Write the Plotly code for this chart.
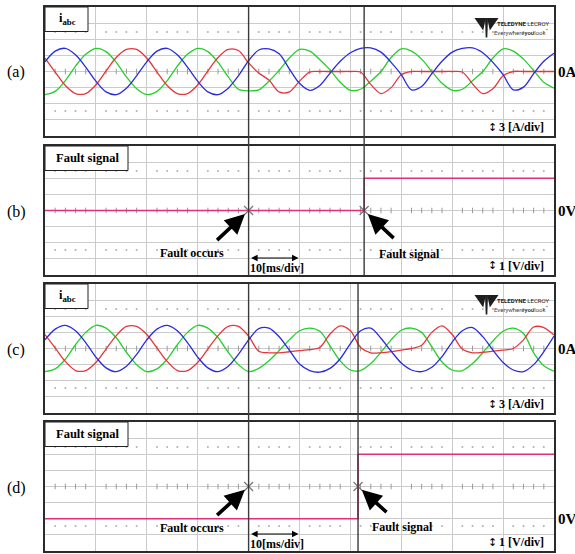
import plotly.graph_objects as go

# ---------------------------------------------------------------- data
# sample instants (ms) of the captured traces, 10 ms/div over 10 divisions
T_MS = list(range(0, 101, 2))

# (a) phase currents [A] – red = ia, blue = ib, green = ic
ia_a = [2.5, -0.1, -2.6, -4.1, -4.1, -2.5, 0.1, 2.6, 4.1, 4.1,
        2.5, -0.1, -2.6, -4.1, -4.1, -2.5, 0.1, 2.6, 4.1, 3.9,
        1.6, -0.3, -1.6, -3.8, -3.8, -1.8, -0.1, 0.0, 0.0, 0.0,
        0.0, -0.1, -2.4, -4.1, -3.0, -0.6, 0.0, 0.0, 0.0, 0.0,
        0.0, -0.1, -2.3, -4.1, -3.2, -0.8, 0.0, 0.0, 0.0, 0.0, 0.0]
ib_a = [1.8, 3.8, 4.3, 3.1, 0.8, -1.8, -3.8, -4.3, -3.1, -0.8,
        1.8, 3.8, 4.3, 3.1, 0.8, -1.8, -3.8, -4.3, -3.1, -0.8,
        2.0, 4.0, 4.2, 3.3, 0.5, -2.2, -3.5, -2.6, -0.3, 1.9,
        3.5, 4.3, 4.4, 3.6, 1.7, -0.6, -3.4, -2.8, -0.4, 1.9,
        3.6, 4.3, 4.4, 3.5, 1.7, -0.6, -3.4, -2.9, -0.4, 1.9, 3.4]
ic_a = [-4.3, -3.7, -1.7, 1.0, 3.2, 4.3, 3.7, 1.7, -1.0, -3.2,
        -4.3, -3.7, -1.7, 1.0, 3.2, 4.3, 3.7, 1.7, -1.0, -3.3,
        -3.6, -3.4, -1.8, 0.2, 2.5, 4.1, 3.8, 2.2, 0.3, -2.0,
        -3.5, -3.3, -1.8, 0.0, 2.6, 4.2, 3.8, 2.3, 0.0, -2.2,
        -3.5, -3.3, -1.7, 0.0, 2.5, 4.2, 3.8, 2.3, 0.2, -2.0, -3.1]

# (c) phase currents [A]
ia_c = [2.6, 0.1, -2.4, -4.1, -4.1, -2.6, -0.1, 2.4, 4.1, 4.1,
        2.6, 0.1, -2.4, -4.1, -4.1, -2.6, -0.1, 2.4, 4.1, 4.1,
        2.3, -0.5, -0.8, -0.8, -0.6, -0.4, -0.2, 0.2, 2.7, 4.2,
        3.3, 0.2, -0.8, -0.8, -0.6, -0.3, 0.0, 0.6, 3.0, 4.2,
        2.6, -0.1, -0.8, -0.7, -0.5, -0.3, 0.0, 1.6, 4.0, 3.9, 2.5]
ib_c = [1.6, 3.6, 4.3, 3.3, 1.1, -1.6, -3.6, -4.3, -3.3, -1.1,
        1.6, 3.6, 4.3, 3.3, 1.1, -1.6, -3.6, -4.3, -3.3, -1.1,
        1.6, 3.7, 3.8, 2.2, -0.3, -2.9, -4.1, -4.4, -3.7, -1.9,
        0.9, 3.3, 3.8, 1.9, -0.5, -2.7, -4.0, -4.3, -3.5, -1.5,
        1.2, 3.3, 3.9, 2.2, -0.3, -2.6, -4.0, -4.3, -3.0, -0.6, 2.3]
ic_c = [-4.3, -3.8, -2.0, 0.7, 3.0, 4.3, 3.8, 2.0, -0.7, -3.0,
        -4.3, -3.8, -2.0, 0.7, 3.0, 4.3, 3.8, 2.0, -0.7, -3.0,
        -4.3, -3.7, -2.3, -0.4, 1.6, 3.3, 3.8, 3.2, 0.5, -2.3,
        -4.0, -4.1, -2.8, -0.7, 1.6, 3.4, 3.8, 3.0, 0.3, -2.5,
        -4.0, -4.1, -2.8, -0.8, 1.4, 3.2, 3.8, 2.8, -0.8, -3.2, -4.2]

# fault signal traces [V]: level before / after the detection instant
FAULT_MS = 40.0
SIGNAL_MS_B = 62.7
SIGNAL_MS_D = 61.5
sig_t_b = [0.0, SIGNAL_MS_B, 100.0]
sig_v_b = [0.0, 2.0, 2.0]
sig_t_d = [0.0, SIGNAL_MS_D, 100.0]
sig_v_d = [0.0, 4.0, 4.0]

# ---------------------------------------------------------------- style
W, H = 575, 554
X_LEFT, X_RIGHT = 45, 554
PANEL_ROWS = [(7, 136), (146, 275), (284, 413), (422, 551)]
Y_RANGES = [(-12, 12, 3), (-4, 4, 1), (-12, 12, 3), (-2, 6, 1)]
CENTERS = [0, 0, 0, 2]

RED, GREEN, BLUE = "#e5363b", "#25cf2a", "#2a2ae0"
PINK = "#de2f7d"
GRID = "#cbcbcb"
FRAME = "#2b2b2b"
SERIF = "Liberation Serif, Times New Roman, serif"
SANS = "Roboto, Liberation Sans, sans-serif"


def px(x):
    return x / W


def py(y):
    return 1 - y / H


def ax_name(kind, i):
    return kind if i == 1 else f"{kind}{i}"


def label(text, x, y, size, family=SERIF, xanchor="center", color="black"):
    return dict(text=text, x=px(x), y=py(y), xref="paper", yref="paper",
                xanchor=xanchor, yanchor="middle", showarrow=False,
                font=dict(family=family, size=size, color=color))


fig = go.Figure()
layout = dict(width=W, height=H, margin=dict(l=0, r=0, t=0, b=0),
              paper_bgcolor="white", plot_bgcolor="white", showlegend=False)

shapes, annotations = [], []

for i, ((top, bot), (lo, hi, dv), cen) in enumerate(zip(PANEL_ROWS, Y_RANGES, CENTERS), start=1):
    layout[ax_name("xaxis", i)] = dict(
        domain=[px(X_LEFT), px(X_RIGHT)], range=[0, 100], tick0=0, dtick=10,
        showgrid=True, gridcolor=GRID, gridwidth=1, zeroline=False,
        showline=True, mirror=True, linecolor=FRAME, linewidth=2,
        showticklabels=False, ticks="", anchor=ax_name("y", i), fixedrange=True)
    layout[ax_name("yaxis", i)] = dict(
        domain=[py(bot), py(top)], range=[lo, hi], tick0=0, dtick=dv,
        showgrid=True, gridcolor=GRID, gridwidth=1, zeroline=False,
        showline=True, mirror=True, linecolor=FRAME, linewidth=2,
        showticklabels=False, ticks="", anchor=ax_name("x", i), fixedrange=True)

    xr, yr = ax_name("x", i), ax_name("y", i)
    # centre graticule line with 1/5-division ticks
    shapes.append(dict(type="line", xref=f"{xr} domain", yref=yr, x0=0, x1=1,
                       y0=cen, y1=cen, line=dict(color="#8a8a8a", width=1.2),
                       layer="below"))
    minor_x = [k * 2 for k in range(1, 50) if k % 5 != 0]
    fig.add_trace(go.Scatter(x=minor_x, y=[cen] * len(minor_x), mode="markers",
                             xaxis=xr, yaxis=yr, hoverinfo="skip",
                             marker=dict(symbol="line-ns", size=4,
                                         line=dict(color="#9a9a9a", width=1))))
    # dotted rows at +/- 2.45 div
    for s in (-1, 1):
        fig.add_trace(go.Scatter(x=minor_x, y=[cen + s * 2.45 * dv] * len(minor_x),
                                 mode="markers", xaxis=xr, yaxis=yr, hoverinfo="skip",
                                 marker=dict(symbol="circle", size=2, color="#b0b0b0")))

# phase current traces
for i, (ia, ib, ic) in ((1, (ia_a, ib_a, ic_a)), (3, (ia_c, ib_c, ic_c))):
    for vals, col in ((ic, GREEN), (ia, RED), (ib, BLUE)):
        fig.add_trace(go.Scatter(x=T_MS, y=vals, mode="lines",
                                 xaxis=ax_name("x", i), yaxis=ax_name("y", i),
                                 line=dict(color=col, width=1.3, shape="spline",
                                           smoothing=0.9)))

# fault signal traces
for i, (tt, vv) in ((2, (sig_t_b, sig_v_b)), (4, (sig_t_d, sig_v_d))):
    fig.add_trace(go.Scatter(x=tt, y=vv, mode="lines", xaxis=ax_name("x", i),
                             yaxis=ax_name("y", i),
                             line=dict(color=PINK, width=1.6, shape="hv")))

# cursor crosses at the fault instant and the detection instant
for i, sig_ms in ((2, SIGNAL_MS_B), (4, SIGNAL_MS_D)):
    cen = CENTERS[i - 1]
    fig.add_trace(go.Scatter(x=[FAULT_MS, sig_ms], y=[cen, cen], mode="markers",
                             xaxis=ax_name("x", i), yaxis=ax_name("y", i),
                             marker=dict(symbol="x-thin", size=9,
                                         line=dict(color="#777777", width=1.2))))

# zero-level markers on the right edge
for i in range(1, 5):
    fig.add_trace(go.Scatter(x=[100.6], y=[0], mode="markers", cliponaxis=False,
                             xaxis=ax_name("x", i), yaxis=ax_name("y", i),
                             marker=dict(symbol="triangle-left", size=7, color="black")))

# long vertical cursor lines spanning each pair of panels
for xr, ms, top, bot in (("x", FAULT_MS, 7, 275), ("x", SIGNAL_MS_B, 7, 275),
                         ("x3", FAULT_MS, 284, 551), ("x3", SIGNAL_MS_D, 284, 551)):
    shapes.append(dict(type="line", xref=xr, yref="paper", x0=ms, x1=ms,
                       y0=py(bot), y1=py(top), line=dict(color="#3a3a3a", width=1.4)))

# title boxes
for (top, _), text, right in zip(PANEL_ROWS,
                                 ["<b>i<sub>abc</sub></b>", "<b>Fault signal</b>",
                                  "<b>i<sub>abc</sub></b>", "<b>Fault signal</b>"],
                                 [88, 128, 88, 128]):
    shapes.append(dict(type="rect", xref="paper", yref="paper",
                       x0=px(X_LEFT), x1=px(right), y0=py(top + 24.5), y1=py(top),
                       fillcolor="white", line=dict(color="#222", width=1)))
    annotations.append(label(text, (X_LEFT + right) / 2 + 1, top + 12, 12.5))

# panel letters, zero labels, scale labels
for (top, bot), letter, zlab, scale, zy in zip(
        PANEL_ROWS, ["(a)", "(b)", "(c)", "(d)"], ["0A", "0V", "0A", "0V"],
        ["3 [A/div]", "1 [V/div]", "3 [A/div]", "1 [V/div]"],
        [72, 211, 349, 519]):
    mid = (top + bot) / 2 + 1
    annotations.append(label(letter, 16, mid, 16))
    annotations.append(label(f"<b>{zlab}</b>", 556, zy, 15, xanchor="left"))
    annotations.append(label("↕", 492, bot - 9, 11, family="DejaVu Sans"))
    annotations.append(label(f"<b>{scale}</b>", 497, bot - 9, 12, xanchor="left"))

# arrows and captions in the fault-signal panels
for xr, yr, cen, sig_ms, bot, occ_xy, sig_xy, occ_off, sig_off in (
        ("x2", "y2", 0, SIGNAL_MS_B, 275, (192, 253), (409, 254), (-33, 31), (31, 29)),
        ("x4", "y4", 2, SIGNAL_MS_D, 551, (192, 528), (402, 527), (-33, 30), (30, 27))):
    for ms, off in ((FAULT_MS, occ_off), (sig_ms, sig_off)):
        annotations.append(dict(text="", x=ms, y=cen, xref=xr, yref=yr, showarrow=True,
                                ax=off[0], ay=off[1], arrowhead=2, arrowsize=1.1,
                                arrowwidth=3.6, arrowcolor="black", standoff=5))
    annotations.append(label("<b>Fault occurs</b>", occ_xy[0], occ_xy[1], 12))
    annotations.append(label("<b>Fault signal</b>", sig_xy[0], sig_xy[1], 12))
    # one-division time scale
    annotations.append(dict(text="", x=FAULT_MS + 10, y=py(bot - 17), xref=xr, yref="paper",
                            ax=FAULT_MS, axref=xr, ay=0, ayref="pixel", showarrow=True,
                            arrowside="end+start", arrowhead=2, startarrowhead=2,
                            arrowsize=1.3, startarrowsize=1.3, arrowwidth=1,
                            arrowcolor="black", standoff=1, startstandoff=1))
    annotations.append(label("<b>10[ms/div]</b>", 248, bot - 7, 12, xanchor="left"))

# oscilloscope vendor mark in the current panels
for top in (7, 284):
    dy = top - 7

    def poly(pts):
        return "M " + " L ".join(f"{px(x):.5f},{py(y + dy):.5f}" for x, y in pts) + " Z"

    for pts in ([(474.5, 18), (485.2, 18), (485.2, 21), (483.2, 30.5)],
                [(498.5, 18), (487.8, 18), (487.8, 21), (489.8, 30.5)],
                [(485.0, 18), (488.0, 18), (487.3, 37.5), (485.7, 37.5)]):
        shapes.append(dict(type="path", xref="paper", yref="paper", path=poly(pts),
                           fillcolor="#1e1e1e", line=dict(width=0)))
    annotations.append(label("<b>TELEDYNE</b> LECROY", 552, 23.5 + dy, 6.0,
                             family=SANS, xanchor="right", color="#1e1e1e"))
    annotations.append(label("Everywhere<b>you</b>look<sup>™</sup>", 551, 32.5 + dy, 6.0,
                             family=SANS, xanchor="right", color="#444"))

layout["shapes"] = shapes
layout["annotations"] = annotations
fig.update_layout(**layout)
fig.write_html("out.html")
